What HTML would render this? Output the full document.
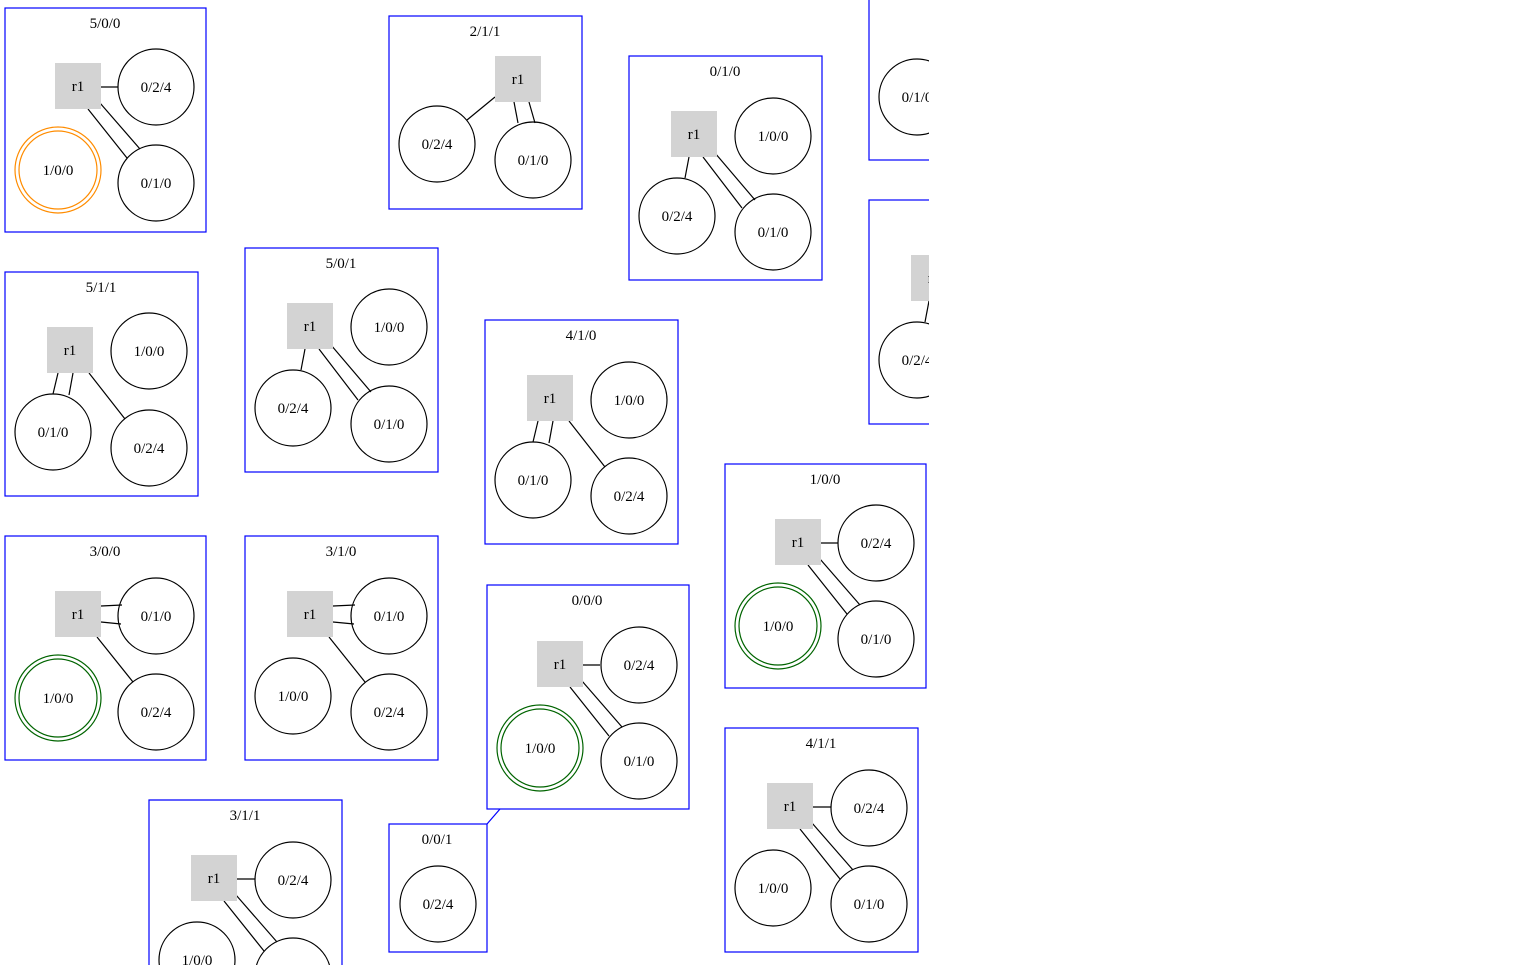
<!DOCTYPE html>
<html><head><meta charset="utf-8"><style>
html,body{margin:0;padding:0;background:#fff;width:1536px;height:965px;overflow:hidden}
svg{display:block}
svg text{font-family:"Liberation Serif",serif;font-size:15px;text-anchor:middle;fill:#000}
</style></head><body>
<svg width="1536" height="965" viewBox="0 0 1536 965" xmlns="http://www.w3.org/2000/svg">
<defs><clipPath id="cp"><rect x="0" y="0" width="929" height="965"/></clipPath></defs>
<g clip-path="url(#cp)" stroke-width="1.2">
<g fill="none" stroke="#0000ff">
<rect x="5" y="8" width="201" height="224"/>
<rect x="389" y="16" width="193" height="193"/>
<rect x="629" y="56" width="193" height="224"/>
<rect x="869" y="-20" width="200" height="180"/>
<rect x="869" y="200" width="200" height="224"/>
<rect x="5" y="272" width="193" height="224"/>
<rect x="245" y="248" width="193" height="224"/>
<rect x="485" y="320" width="193" height="224"/>
<rect x="5" y="536" width="201" height="224"/>
<rect x="245" y="536" width="193" height="224"/>
<rect x="487" y="585" width="202" height="224"/>
<rect x="725" y="464" width="201" height="224"/>
<rect x="725" y="728" width="193" height="224"/>
<path d="M149,966 V800 H342 V966"/>
<rect x="389" y="824" width="98" height="128"/>
<line x1="487" y1="824" x2="500" y2="809"/>
</g>
<text x="105" y="28">5/0/0</text>
<text x="485" y="36">2/1/1</text>
<text x="725" y="76">0/1/0</text>
<text x="101" y="292">5/1/1</text>
<text x="341" y="268">5/0/1</text>
<text x="581" y="340">4/1/0</text>
<text x="105" y="556">3/0/0</text>
<text x="341" y="556">3/1/0</text>
<text x="587" y="605">0/0/0</text>
<text x="825" y="484">1/0/0</text>
<text x="821" y="748">4/1/1</text>
<text x="245" y="820">3/1/1</text>
<text x="437" y="844">0/0/1</text>

<circle cx="917" cy="97" r="38" fill="none" stroke="#000"/><text x="917" y="102">0/1/0</text>
<rect x="911" y="255" width="46" height="46" fill="#d3d3d3"/><text x="934" y="283">r1</text>
<line x1="929" y1="301" x2="925" y2="322" stroke="#000"/>
<circle cx="917" cy="360" r="38" fill="none" stroke="#000"/><text x="917" y="365">0/2/4</text>

<circle cx="438" cy="904" r="38" fill="none" stroke="#000"/><text x="438" y="909">0/2/4</text>

<g stroke="#000" fill="none">
<line x1="495" y1="97" x2="467" y2="120"/>
<line x1="514" y1="102" x2="518" y2="123"/>
<line x1="529" y1="102" x2="535" y2="123"/>
<circle cx="437" cy="144" r="38"/><circle cx="533" cy="160" r="38"/>
</g>
<rect x="495" y="56" width="46" height="46" fill="#d3d3d3"/>
<text x="518" y="84">r1</text><text x="437" y="149">0/2/4</text><text x="533" y="165">0/1/0</text>

<g transform="translate(78,86)">
<g stroke="#000" fill="none"><line x1="23" y1="1" x2="40" y2="1"/><line x1="10" y1="23" x2="49" y2="72"/><line x1="22" y1="17" x2="62" y2="63"/>
<circle cx="78" cy="1" r="38"/><circle cx="78" cy="97" r="38"/></g>
<g stroke="#ff8c00" fill="none"><circle cx="-20" cy="84" r="43"/><circle cx="-20" cy="84" r="39"/></g>
<rect x="-23" y="-23" width="46" height="46" fill="#d3d3d3"/>
<text x="0" y="5">r1</text><text x="78" y="6">0/2/4</text><text x="78" y="102">0/1/0</text><text x="-20" y="89">1/0/0</text>
</g>
<g transform="translate(798,542)">
<g stroke="#000" fill="none"><line x1="23" y1="1" x2="40" y2="1"/><line x1="10" y1="23" x2="49" y2="72"/><line x1="22" y1="17" x2="62" y2="63"/>
<circle cx="78" cy="1" r="38"/><circle cx="78" cy="97" r="38"/></g>
<g stroke="#006400" fill="none"><circle cx="-20" cy="84" r="43"/><circle cx="-20" cy="84" r="39"/></g>
<rect x="-23" y="-23" width="46" height="46" fill="#d3d3d3"/>
<text x="0" y="5">r1</text><text x="78" y="6">0/2/4</text><text x="78" y="102">0/1/0</text><text x="-20" y="89">1/0/0</text>
</g>
<g transform="translate(560,664)">
<g stroke="#000" fill="none"><line x1="23" y1="1" x2="40" y2="1"/><line x1="10" y1="23" x2="49" y2="72"/><line x1="22" y1="17" x2="62" y2="63"/>
<circle cx="79" cy="1" r="38"/><circle cx="79" cy="97" r="38"/></g>
<g stroke="#006400" fill="none"><circle cx="-20" cy="84" r="43"/><circle cx="-20" cy="84" r="39"/></g>
<rect x="-23" y="-23" width="46" height="46" fill="#d3d3d3"/>
<text x="0" y="5">r1</text><text x="79" y="6">0/2/4</text><text x="79" y="102">0/1/0</text><text x="-20" y="89">1/0/0</text>
</g>
<g transform="translate(790,806)">
<g stroke="#000" fill="none"><line x1="23" y1="1" x2="41" y2="1"/><line x1="10" y1="23" x2="50" y2="73"/><line x1="22" y1="17" x2="63" y2="64"/>
<circle cx="79" cy="2" r="38"/><circle cx="79" cy="98" r="38"/><circle cx="-17" cy="82" r="38"/></g>
<rect x="-23" y="-23" width="46" height="46" fill="#d3d3d3"/>
<text x="0" y="5">r1</text><text x="79" y="7">0/2/4</text><text x="79" y="103">0/1/0</text><text x="-17" y="87">1/0/0</text>
</g>
<g transform="translate(214,878)">
<g stroke="#000" fill="none"><line x1="23" y1="1" x2="41" y2="1"/><line x1="10" y1="23" x2="50" y2="73"/><line x1="22" y1="17" x2="63" y2="64"/>
<circle cx="79" cy="2" r="38"/><circle cx="79" cy="98" r="38"/><circle cx="-17" cy="82" r="38"/></g>
<rect x="-23" y="-23" width="46" height="46" fill="#d3d3d3"/>
<text x="0" y="5">r1</text><text x="79" y="7">0/2/4</text><text x="79" y="103">0/1/0</text><text x="-17" y="87">1/0/0</text>
</g>

<g transform="translate(694,134)">
<g stroke="#000" fill="none"><line x1="-5" y1="23" x2="-9" y2="44"/><line x1="9" y1="23" x2="48" y2="74"/><line x1="21" y1="19" x2="61" y2="66"/>
<circle cx="79" cy="2" r="38"/><circle cx="-17" cy="82" r="38"/><circle cx="79" cy="98" r="38"/></g>
<rect x="-23" y="-23" width="46" height="46" fill="#d3d3d3"/>
<text x="0" y="5">r1</text><text x="79" y="7">1/0/0</text><text x="-17" y="87">0/2/4</text><text x="79" y="103">0/1/0</text>
</g>
<g transform="translate(310,326)">
<g stroke="#000" fill="none"><line x1="-5" y1="23" x2="-9" y2="44"/><line x1="9" y1="23" x2="48" y2="74"/><line x1="21" y1="19" x2="61" y2="66"/>
<circle cx="79" cy="1" r="38"/><circle cx="-17" cy="82" r="38"/><circle cx="79" cy="98" r="38"/></g>
<rect x="-23" y="-23" width="46" height="46" fill="#d3d3d3"/>
<text x="0" y="5">r1</text><text x="79" y="6">1/0/0</text><text x="-17" y="87">0/2/4</text><text x="79" y="103">0/1/0</text>
</g>

<g transform="translate(70,350)">
<g stroke="#000" fill="none"><line x1="-12" y1="23" x2="-17" y2="44"/><line x1="3" y1="23" x2="-1" y2="45"/><line x1="19" y1="23" x2="55" y2="69"/>
<circle cx="79" cy="1" r="38"/><circle cx="-17" cy="82" r="38"/><circle cx="79" cy="98" r="38"/></g>
<rect x="-23" y="-23" width="46" height="46" fill="#d3d3d3"/>
<text x="0" y="5">r1</text><text x="79" y="6">1/0/0</text><text x="-17" y="87">0/1/0</text><text x="79" y="103">0/2/4</text>
</g>
<g transform="translate(550,398)">
<g stroke="#000" fill="none"><line x1="-12" y1="23" x2="-17" y2="44"/><line x1="3" y1="23" x2="-1" y2="45"/><line x1="19" y1="23" x2="55" y2="69"/>
<circle cx="79" cy="2" r="38"/><circle cx="-17" cy="82" r="38"/><circle cx="79" cy="98" r="38"/></g>
<rect x="-23" y="-23" width="46" height="46" fill="#d3d3d3"/>
<text x="0" y="5">r1</text><text x="79" y="7">1/0/0</text><text x="-17" y="87">0/1/0</text><text x="79" y="103">0/2/4</text>
</g>

<g transform="translate(78,614)">
<g stroke="#000" fill="none"><line x1="23" y1="-8" x2="44" y2="-9"/><line x1="23" y1="8" x2="43" y2="10"/><line x1="19" y1="23" x2="55" y2="68"/>
<circle cx="78" cy="2" r="38"/><circle cx="78" cy="98" r="38"/></g>
<g stroke="#006400" fill="none"><circle cx="-20" cy="84" r="43"/><circle cx="-20" cy="84" r="39"/></g>
<rect x="-23" y="-23" width="46" height="46" fill="#d3d3d3"/>
<text x="0" y="5">r1</text><text x="78" y="7">0/1/0</text><text x="78" y="103">0/2/4</text><text x="-20" y="89">1/0/0</text>
</g>
<g transform="translate(310,614)">
<g stroke="#000" fill="none"><line x1="23" y1="-8" x2="45" y2="-9"/><line x1="23" y1="8" x2="44" y2="10"/><line x1="19" y1="23" x2="55" y2="68"/>
<circle cx="79" cy="2" r="38"/><circle cx="79" cy="98" r="38"/><circle cx="-17" cy="82" r="38"/></g>
<rect x="-23" y="-23" width="46" height="46" fill="#d3d3d3"/>
<text x="0" y="5">r1</text><text x="79" y="7">0/1/0</text><text x="79" y="103">0/2/4</text><text x="-17" y="87">1/0/0</text>
</g>
</g>
</svg>
</body></html>
